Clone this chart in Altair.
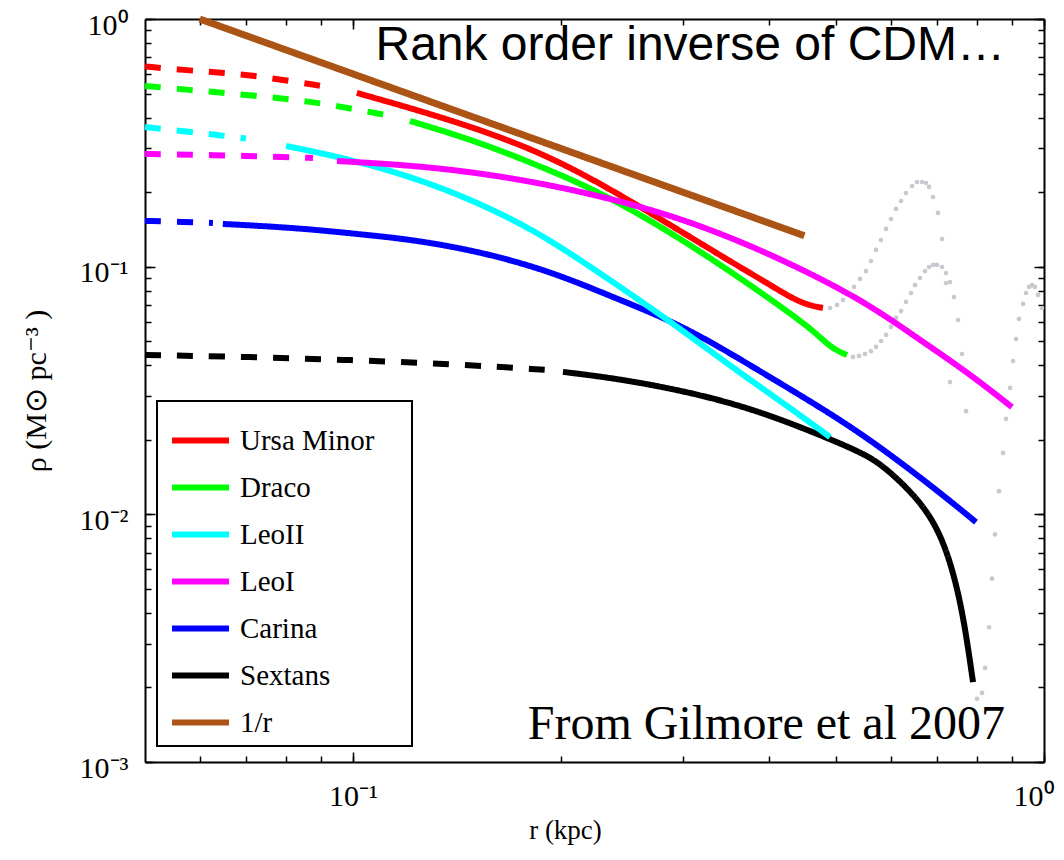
import altair as alt
import pandas as pd

# ---------------- data (r in kpc, rho in Msun pc^-3) ----------------
NAMES = ["Ursa Minor", "Draco", "LeoII", "LeoI", "Carina", "Sextans", "1/r"]
COLORS = ["#ff0000", "#00ff00", "#00ffff", "#ff00ff", "#0000ff", "#000000", "#ab5416"]
DRAW_ORDER = ["Sextans", "Carina", "LeoII", "Draco", "Ursa Minor", "LeoI", "1/r"]

UMI_DASH_R = [0.0500, 0.0571, 0.0638, 0.0710, 0.0792, 0.0881, 0.0935]
UMI_DASH_RHO = [0.643, 0.622, 0.608, 0.594, 0.567, 0.542, 0.527]
UMI_R = [0.1013, 0.1197, 0.1492, 0.1865, 0.2277, 0.2847, 0.3548, 0.3974, 0.4289, 0.4539, 0.4787]
UMI_RHO = [0.503, 0.441, 0.366, 0.290, 0.2177, 0.1502, 0.1034, 0.0859, 0.0754, 0.0701, 0.0681]

DRA_DASH_R = [0.0500, 0.0571, 0.0710, 0.0881, 0.0983, 0.1113]
DRA_DASH_RHO = [0.5365, 0.519, 0.493, 0.462, 0.437, 0.410]
DRA_R = [0.1209, 0.1492, 0.1865, 0.2277, 0.2847, 0.3548, 0.4434, 0.4740, 0.4950, 0.5187]
DRA_RHO = [0.3875, 0.3248, 0.2549, 0.2002, 0.1406, 0.0943, 0.0609, 0.0520, 0.0465, 0.0440]

LEO2_DASH_R = [0.0500, 0.0571, 0.0638, 0.0700]
LEO2_DASH_RHO = [0.3664, 0.3514, 0.3402, 0.329]
LEO2_R = [0.0800, 0.0958, 0.1197, 0.1492, 0.1865, 0.2331, 0.2847, 0.3548, 0.4390, 0.4901]
LEO2_RHO = [0.3072, 0.2772, 0.2345, 0.1858, 0.1368, 0.0900, 0.0615, 0.0390, 0.0257, 0.0205]

LEO1_DASH_R = [0.0500, 0.0571, 0.0710, 0.0792, 0.0875]
LEO1_DASH_RHO = [0.2851, 0.2838, 0.2798, 0.2772, 0.2747]
LEO1_R = [0.0948, 0.1197, 0.1492, 0.1865, 0.2277, 0.2847, 0.3548, 0.4434, 0.5544, 0.6615, 0.7737, 0.8988]
LEO1_RHO = [0.2671, 0.2573, 0.2411, 0.2177, 0.1929, 0.1633, 0.1305, 0.0988, 0.0714, 0.0506, 0.0376, 0.0271]

CAR_DASH_R = [0.0500, 0.0571, 0.0627]
CAR_DASH_RHO = [0.1530, 0.1516, 0.1502]
CAR_R = [0.0648, 0.0838, 0.1048, 0.1197, 0.1492, 0.1909, 0.2378, 0.2847, 0.3319, 0.3921, 0.4631, 0.5544, 0.6909, 0.7973]
CAR_RHO = [0.1488, 0.1432, 0.1342, 0.1293, 0.1168, 0.0970, 0.0754, 0.0615, 0.0492, 0.0372, 0.0282, 0.0205, 0.0129, 0.0093]

SEX_DASH_R = [0.0500, 0.0710, 0.0990, 0.1382, 0.1909]
SEX_DASH_RHO = [0.0440, 0.0432, 0.0420, 0.0405, 0.0383]
SEX_R = [0.2013, 0.2378, 0.2809, 0.3319, 0.3921, 0.4631, 0.5416, 0.5849, 0.6550, 0.7001, 0.7311, 0.7559, 0.7737, 0.7894]
SEX_RHO = [0.0376, 0.0355, 0.0327, 0.0295, 0.0257, 0.0215, 0.0179, 0.0158, 0.0117, 0.0089, 0.0065, 0.0045, 0.0031, 0.0021]

INV_R = [0.06, 0.45]
INV_RHO = [1.0, 0.1333]

DOT_UMI_R = [0.4901, 0.5017, 0.5118, 0.5204, 0.5309, 0.5416, 0.5526, 0.5619, 0.5713, 0.5809, 0.5907, 0.6006, 0.6107,
             0.6210, 0.6314, 0.6442, 0.6550, 0.6660, 0.6749, 0.6817, 0.6909, 0.7024, 0.7119, 0.7214, 0.7311]
DOT_UMI_RHO = [0.0681, 0.0701, 0.0734, 0.0776, 0.0828, 0.0892, 0.0960, 0.1054, 0.1168, 0.1281, 0.1420, 0.1558, 0.1710,
               0.1841, 0.1984, 0.2117, 0.2197, 0.2197, 0.2177, 0.2098, 0.1911, 0.1648, 0.1293, 0.0859, 0.0342]
DOT_DRA_R = [0.5291, 0.5398, 0.5507, 0.5619, 0.5713, 0.5809, 0.5907, 0.6006, 0.6107, 0.6210, 0.6314, 0.6420, 0.6507,
             0.6615, 0.6727, 0.6817, 0.6909, 0.7001, 0.7119, 0.7214, 0.7311, 0.7409, 0.7509, 0.7610, 0.7712]
DOT_DRA_RHO = [0.0432, 0.0436, 0.0444, 0.0456, 0.0474, 0.0501, 0.0530, 0.0571, 0.0621, 0.0662, 0.0721, 0.0783, 0.0843,
               0.0900, 0.0960, 0.0997, 0.1016, 0.1016, 0.0997, 0.0943, 0.0867, 0.0754, 0.0609, 0.0444, 0.0261]
DOT_SEX_R = [0.8000, 0.8134, 0.8216, 0.8326, 0.8410, 0.8494, 0.8608, 0.8724, 0.8811, 0.8930, 0.9019, 0.9110, 0.9201,
             0.9325, 0.9418, 0.9513, 0.9608, 0.9705, 0.9802, 0.9934]
DOT_SEX_RHO = [0.0018, 0.0019, 0.0024, 0.0035, 0.0055, 0.0083, 0.0124, 0.0177, 0.0243, 0.0324, 0.0416, 0.0510, 0.0615,
               0.0707, 0.0783, 0.0828, 0.0843, 0.0828, 0.0769, 0.0681]

X_TICKS = [0.06, 0.07, 0.08, 0.09, 0.1, 0.2, 0.3, 0.4, 0.5, 0.6, 0.7, 0.8, 0.9, 1.0]
X_MAJOR = [0.1, 1.0]
X_LABEL_TEXT = ["10⁻¹", "10⁰"]
Y_TICKS = [0.001, 0.002, 0.003, 0.004, 0.005, 0.006, 0.007, 0.008, 0.009,
           0.01, 0.02, 0.03, 0.04, 0.05, 0.06, 0.07, 0.08, 0.09,
           0.1, 0.2, 0.3, 0.4, 0.5, 0.6, 0.7, 0.8, 0.9, 1.0]
Y_MAJOR = [0.001, 0.01, 0.1, 1.0]
Y_LABEL_TEXT = ["10⁻³", "10⁻²", "10⁻¹", "10⁰"]

X_TITLE = "r (kpc)"
Y_TITLE = "ρ  (M⊙  pc⁻³ )"
TOP_NOTE = ["Rank order inverse of CDM…"]
BOTTOM_NOTE = ["From Gilmore et al 2007"]

# ---------------- tables ----------------
SERIES = {
    "Ursa Minor": (UMI_DASH_R, UMI_DASH_RHO, UMI_R, UMI_RHO),
    "Draco": (DRA_DASH_R, DRA_DASH_RHO, DRA_R, DRA_RHO),
    "LeoII": (LEO2_DASH_R, LEO2_DASH_RHO, LEO2_R, LEO2_RHO),
    "LeoI": (LEO1_DASH_R, LEO1_DASH_RHO, LEO1_R, LEO1_RHO),
    "Carina": (CAR_DASH_R, CAR_DASH_RHO, CAR_R, CAR_RHO),
    "Sextans": (SEX_DASH_R, SEX_DASH_RHO, SEX_R, SEX_RHO),
    "1/r": ([], [], INV_R, INV_RHO),
}


def series_frame(name):
    dr, drho, sr, srho = SERIES[name]
    rows = []
    for i, (r, p) in enumerate(zip(dr, drho)):
        rows.append({"name": name, "part": "dashed", "r": r, "rho": p, "i": i})
    for i, (r, p) in enumerate(zip(sr, srho)):
        rows.append({"name": name, "part": "solid", "r": r, "rho": p, "i": i})
    return pd.DataFrame(rows)


dots = pd.concat([
    pd.DataFrame({"curve": "umi", "r": DOT_UMI_R, "rho": DOT_UMI_RHO}),
    pd.DataFrame({"curve": "dra", "r": DOT_DRA_R, "rho": DOT_DRA_RHO}),
    pd.DataFrame({"curve": "sex", "r": DOT_SEX_R, "rho": DOT_SEX_RHO}),
], ignore_index=True)


def label_expr(values, texts):
    parts = [f"datum.value == {v} ? '{t}'" for v, t in zip(values, texts)]
    return " : ".join(parts) + " : ''"


SERIF = "Liberation Serif"
W, H = 899, 743

xscale = alt.Scale(type="log", domain=[0.05, 1.0], nice=False)
yscale = alt.Scale(type="log", domain=[0.001, 1.0], nice=False)

minor = dict(tickSize={"expr": "-6"}, tickColor="black", tickWidth=1.5,
             domainColor="black", domainWidth=2, grid=False, labelOverlap=False)
major = dict(tickSize={"expr": "-10"}, tickColor="black", tickWidth=1.5,
             domain=False, grid=False, labels=False, title=None)

bottom_axis = alt.Axis(orient="bottom", values=X_TICKS, labelExpr=label_expr(X_MAJOR, X_LABEL_TEXT),
                       labelFont=SERIF, labelFontSize=30, labelColor="black", labelPadding=25,
                       labelFlush=True, labelFlushOffset=10,
                       title=X_TITLE, titleFont=SERIF, titleFontSize=27, titleFontWeight="normal",
                       titleColor="black", titleX=420, titleY=68, titleBaseline="middle", **minor)
left_axis = alt.Axis(orient="left", values=Y_TICKS, labelExpr=label_expr(Y_MAJOR, Y_LABEL_TEXT),
                     labelFont=SERIF, labelFontSize=30, labelColor="black", labelPadding=23, labelOffset=6,
                     labelFlush=False,
                     title=Y_TITLE, titleFont=SERIF, titleFontSize=30, titleFontWeight="normal",
                     titleColor="black", titleX=-109, titleY=H / 2, titleBaseline="middle", **minor)
top_axis = alt.Axis(orient="top", values=X_TICKS, labels=False, title=None, **minor)
right_axis = alt.Axis(orient="right", values=Y_TICKS, labels=False, title=None, **minor)

legend = alt.Legend(title=".", titleOrient="right", titleColor="white", titleFontSize=6, titlePadding=27,
                    orient="none", legendX=12, legendY=382, symbolType="stroke",
                    symbolSize=3249, symbolStrokeWidth=6, symbolOffset=4, labelOffset=8,
                    labelFont=SERIF, labelFontSize=29, labelColor="black", labelLimit=0,
                    padding=8, rowPadding=0, strokeColor="black", fillColor="white")

color = alt.Color("name:N", scale=alt.Scale(domain=NAMES, range=COLORS), legend=legend)
dash = alt.StrokeDash("part:N", scale=alt.Scale(domain=["solid", "dashed"], range=[[1, 0], [16, 16]]),
                      legend=None)

dot_layer = alt.Chart(dots).mark_circle(size=22, color="#c8c8cf", opacity=1).encode(
    x=alt.X("r:Q", scale=xscale, axis=top_axis),
    y=alt.Y("rho:Q", scale=yscale, axis=right_axis),
    detail="curve:N",
)

# invisible carriers for the longer decade ticks on all four sides
major_bl = alt.Chart(dots).mark_circle(opacity=0).encode(
    x=alt.X("r:Q", scale=xscale, axis=alt.Axis(orient="bottom", values=X_MAJOR, **major)),
    y=alt.Y("rho:Q", scale=yscale, axis=alt.Axis(orient="left", values=Y_MAJOR, **major)),
)
major_tr = alt.Chart(dots).mark_circle(opacity=0).encode(
    x=alt.X("r:Q", scale=xscale, axis=alt.Axis(orient="top", values=X_MAJOR, **major)),
    y=alt.Y("rho:Q", scale=yscale, axis=alt.Axis(orient="right", values=Y_MAJOR, **major)),
)

layers = [dot_layer, major_bl, major_tr]
for k, name in enumerate(DRAW_ORDER):
    width = 7 if name == "1/r" else 6
    layers.append(
        alt.Chart(series_frame(name)).mark_line(strokeWidth=width, strokeCap="butt", interpolate="basis").encode(
            x=alt.X("r:Q", scale=xscale, axis=bottom_axis if k == 0 else None),
            y=alt.Y("rho:Q", scale=yscale, axis=left_axis if k == 0 else None),
            color=color,
            strokeDash=dash,
            detail="part:N",
            order="i:Q",
        )
    )

top_text = alt.Chart(pd.DataFrame({"t": TOP_NOTE})).mark_text(
    font="Liberation Sans", fontSize=48, align="right", baseline="alphabetic", color="black"
).encode(text="t:N", x=alt.value(860), y=alt.value(41))

bottom_text = alt.Chart(pd.DataFrame({"t": BOTTOM_NOTE})).mark_text(
    font=SERIF, fontSize=48, align="right", baseline="alphabetic", color="black"
).encode(text="t:N", x=alt.value(860), y=alt.value(720))

layers += [top_text, bottom_text]

chart = alt.layer(*layers).resolve_axis(x="independent", y="independent").properties(
    width=W, height=H,
    autosize=alt.AutoSizeParams(type="none"),
    padding={"left": 137, "top": 11, "right": 12, "bottom": 87},
    background="white",
).configure_view(stroke=None).configure_legend(strokeWidth=2)

chart.save("out.html", embed_options={"renderer": "svg", "actions": False})
